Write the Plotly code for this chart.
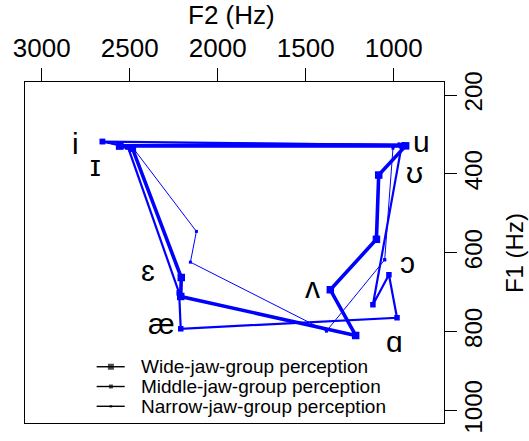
import plotly.graph_objects as go

# ---- data (Hz) ----
vowels = ["i", "ɪ", "ɛ", "æ", "ɑ", "ʌ", "ɔ", "ʊ", "u"]

wide_f2 = [2557, 2485, 2207, 2210, 1216, 1360, 1098, 1085, 932]
wide_f1 = [329, 335, 663, 711, 810, 694, 566, 403, 329]

middle_f2 = [2655, 2510, 2219, 2210, 981, 1027, 1118, 955, 943]
middle_f1 = [318, 332, 702, 793, 765, 656, 732, 329, 327]

narrow_f2 = [2648, 2483, 2121, 2155, 1382, 1051, 1051, 1004, 970]
narrow_f1 = [320, 333, 546, 624, 799, 618, 618, 335, 324]

label_f2 = [2807, 2693, 2398, 2318, 994, 1460, 920, 881, 841]
label_f1 = [322, 380, 645, 780, 826, 689, 624, 397, 317]

series_names = ["Wide-jaw-group perception",
                "Middle-jaw-group perception",
                "Narrow-jaw-group perception"]

x_ticks = [3000, 2500, 2000, 1500, 1000]
y_ticks = [200, 400, 600, 800, 1000]

BLUE = "#0000FF"
FONT = "Liberation Sans, Arial, DejaVu Sans, sans-serif"

fig = go.Figure()

styles = [(3.6, 7.5), (2.2, 5.5), (1.0, 3.0)]
for (f2, f1), (lw, ms) in zip([(wide_f2, wide_f1), (middle_f2, middle_f1),
                              (narrow_f2, narrow_f1)], styles):
    fig.add_trace(go.Scatter(
        x=f2 + [f2[0]], y=f1 + [f1[0]], mode="lines+markers",
        line=dict(color=BLUE, width=lw),
        marker=dict(symbol="square", size=ms, color=BLUE, line=dict(width=0)),
        showlegend=False, hoverinfo="skip"))

# vowel labels
for v, x, y in zip(vowels, label_f2, label_f1):
    fig.add_annotation(x=x, y=y, text=v, showarrow=False,
                       font=dict(family=FONT, size=30, color="black"),
                       xanchor="center", yanchor="middle")

# custom legend on a hidden overlay axis (fractions of plot area)
leg_rows = [0.165, 0.107, 0.049]
leg_ms = [6, 4, 2.5]
for name, yr, ms in zip(series_names, leg_rows, leg_ms):
    fig.add_trace(go.Scatter(
        x=[0.171, 0.205, 0.238], y=[yr, yr, yr], mode="lines+markers",
        line=dict(color="black", width=1.4),
        marker=dict(symbol="square", size=[0, ms, 0], color="black",
                    line=dict(width=0)),
        xaxis="x2", yaxis="y2", showlegend=False, hoverinfo="skip"))
    fig.add_annotation(x=0.272, y=yr, xref="x2", yref="y2", text=name,
                       showarrow=False, xanchor="left", yanchor="middle",
                       font=dict(family=FONT, size=19, color="black"))

# axis titles
fig.add_annotation(x=0.494, y=1.196, xref="paper", yref="paper",
                   text="F2 (Hz)", showarrow=False,
                   xanchor="center", yanchor="middle",
                   font=dict(family=FONT, size=26, color="black"))
fig.add_annotation(x=1.170, y=0.499, xref="paper", yref="paper",
                   text="F1 (Hz)", showarrow=False, textangle=-90,
                   xanchor="center", yanchor="middle", borderpad=0,
                   font=dict(family=FONT, size=24, color="black"))

fig.update_layout(
    width=529, height=441,
    margin=dict(l=25, r=85, t=82, b=17.5),
    paper_bgcolor="white", plot_bgcolor="white",
    font=dict(family=FONT, color="black"),
    xaxis=dict(range=[3095, 714], side="top", tickvals=x_ticks,
               ticktext=[str(t) for t in x_ticks], automargin=False,
               ticks="outside", ticklen=13, tickwidth=1.3, tickcolor="black",
               showline=True, linecolor="black", linewidth=1.3, mirror=True,
               showgrid=False, zeroline=False,
               tickfont=dict(size=26, family=FONT)),
    yaxis=dict(range=[1032, 167], side="right", tickvals=y_ticks,
               ticktext=[str(t) for t in y_ticks], tickangle=-90,
               automargin=False, ticklabelstandoff=-4,
               ticks="outside", ticklen=12, tickwidth=1.3, tickcolor="black",
               showline=True, linecolor="black", linewidth=1.3, mirror=True,
               showgrid=False, zeroline=False,
               tickfont=dict(size=24, family=FONT)),
    xaxis2=dict(domain=[0, 1], range=[0, 1], visible=False, anchor="y2",
                overlaying="x"),
    yaxis2=dict(domain=[0, 1], range=[0, 1], visible=False, anchor="x2",
                overlaying="y"),
)

# remove the browser's default 8px body margin so the figure fills the window
fig.write_html("out.html", config={"displayModeBar": False},
               post_script="document.body.style.margin='0px';")
